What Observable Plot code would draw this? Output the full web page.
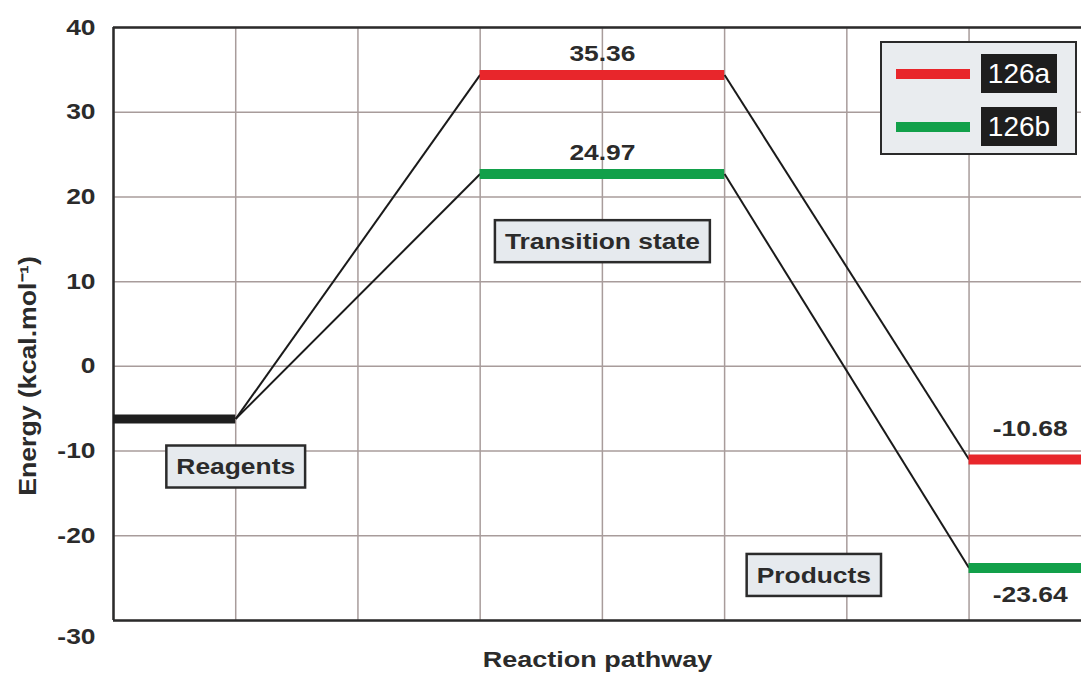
<!DOCTYPE html>
<html><head><meta charset="utf-8">
<script src="https://cdn.jsdelivr.net/npm/d3@7"></script>
<script src="https://cdn.jsdelivr.net/npm/@observablehq/plot@0.6"></script>
<style>
body{margin:0;background:#fff;font-family:"Liberation Sans",Arial,sans-serif;}
#wrap{position:relative;width:1081px;height:680px;overflow:hidden;}
.legend{position:absolute;left:880px;top:41px;width:197px;height:114px;border:2px solid #2a2a2a;background:#e9ecef;box-sizing:border-box;}
.legend .sw{position:absolute;left:14px;width:74px;height:10px;}
.legend .lb{position:absolute;left:99px;width:76px;height:39px;background:#1e1e1e;color:#fff;font-size:28px;line-height:39px;text-align:center;}
</style></head><body><div id="wrap"></div>
<script>
// ---- data ----
const stages = ["Reagents", "Transition state", "Products"];
const series = ["126a", "126b"];
const seriesColors = ["#e8262b", "#12a04a"];
const reagentEnergy = -6.2;                 // drawn level
const tsEnergy = [34.4, 22.7];              // drawn levels
const productEnergy = [-11.0, -23.8];       // drawn levels
const tsLabels = ["35.36", "24.97"];
const productLabels = ["-10.68", "-23.64"];
const yTicks = [40, 30, 20, 10, 0, -10, -20, -30];
const xGrid = [0, 1, 2, 3, 4, 5, 6, 7];
// stage spans along the pathway axis
const stageSpans = [[0, 1], [3, 5], [7, 7.92]];
const stageBoxPos = [[1, -11.9], [4, 14.7], [5.73, -24.7]];

// ---- build tables ----
const reagentLevel = [{x1: stageSpans[0][0], x2: stageSpans[0][1], y: reagentEnergy}];
const levels = [];
const connectors = [];
series.forEach((s, i) => {
  levels.push({s, x1: stageSpans[1][0], x2: stageSpans[1][1], y: tsEnergy[i], c: seriesColors[i]});
  levels.push({s, x1: stageSpans[2][0], x2: stageSpans[2][1], y: productEnergy[i], c: seriesColors[i]});
  connectors.push({x1: stageSpans[0][1], y1: reagentEnergy, x2: stageSpans[1][0], y2: tsEnergy[i]});
  connectors.push({x1: stageSpans[1][1], y1: tsEnergy[i], x2: stageSpans[2][0], y2: productEnergy[i]});
});
const tsLab = series.map((s, i) => ({x: (stageSpans[1][0] + stageSpans[1][1]) / 2, y: tsEnergy[i], t: tsLabels[i]}));
const prodLab = series.map((s, i) => ({x: 7.5, y: productEnergy[i], t: productLabels[i], dir: i === 0 ? -1 : 1}));
const stageBoxes = stages.map((s, i) => ({t: s, x: stageBoxPos[i][0], y: stageBoxPos[i][1]}));

const ink = "#2b2b2b";
const yMin = d3.min(yTicks), yMax = d3.max(yTicks);
const chart = Plot.plot({
  width: 1081, height: 680,
  marginLeft: 113, marginRight: 0, marginTop: 27, marginBottom: 60,
  x: {domain: [0, 7.92], axis: null},
  y: {domain: [yMin, yMax], axis: null},
  color: {type: "identity"},
  style: {fontFamily: "'Liberation Sans', Arial, sans-serif", background: "#fff", color: ink},
  marks: [
    Plot.gridX(xGrid, {stroke: "#a89c9b", strokeOpacity: 1, strokeWidth: 1.5}),
    Plot.gridY(yTicks, {stroke: "#a89c9b", strokeOpacity: 1, strokeWidth: 1.5}),
    Plot.ruleX([xGrid[0]], {stroke: ink, strokeWidth: 2.5}),
    Plot.ruleY([yMin, yMax], {stroke: ink, strokeWidth: 2.5}),
    Plot.axisY(yTicks.filter(d => d !== yMin), {tickSize: 0, tickPadding: 18, fontSize: 22, fontWeight: "bold", fill: ink, label: null, tickFormat: d => String(d)}),
    Plot.axisY([yMin], {tickSize: 0, tickPadding: 18, dy: 16, fontSize: 22, fontWeight: "bold", fill: ink, label: null, tickFormat: d => String(d)}),
    Plot.text(["Energy (kcal.mol\u207B\u00B9)"], {frameAnchor: "left", textAnchor: "middle", rotate: -90, dx: -85, dy: 52, fontSize: 23, fontWeight: "bold", fill: ink}),
    Plot.text(["Reaction pathway"], {frameAnchor: "bottom", dy: 46, fontSize: 22.5, fontWeight: "bold", fill: ink}),
    Plot.link(connectors, {x1: "x1", y1: "y1", x2: "x2", y2: "y2", stroke: "#1a1a1a", strokeWidth: 2}),
    Plot.ruleY(reagentLevel, {y: "y", x1: "x1", x2: "x2", stroke: "#1e1e1e", strokeWidth: 9}),
    Plot.ruleY(levels, {y: "y", x1: "x1", x2: "x2", stroke: "c", strokeWidth: 10}),
    Plot.text(tsLab, {x: "x", y: "y", text: "t", dy: -21, fontSize: 22, fontWeight: "bold", fill: ink}),
    Plot.text(prodLab.filter(d => d.dir < 0), {x: "x", y: "y", text: "t", dy: -31, fontSize: 22, fontWeight: "bold", fill: ink}),
    Plot.text(prodLab.filter(d => d.dir > 0), {x: "x", y: "y", text: "t", dy: 27, fontSize: 22, fontWeight: "bold", fill: ink}),
    Plot.text(stageBoxes, {x: "x", y: "y", text: "t", fontSize: 22, fontWeight: "bold", fill: ink})
  ]
});
const wrap = document.getElementById("wrap");
wrap.appendChild(chart);

// The reference lettering is horizontally wide: stretch glyphs about their anchor.
const ns = "http://www.w3.org/2000/svg";
const sx = 1.2;
chart.querySelectorAll("text").forEach(t => {
  const base = t.getAttribute("transform") || "";
  const xa = parseFloat(t.getAttribute("x")) || 0;
  t.setAttribute("x", 0);
  const pre = (base + ` translate(${xa},0)`).trim();
  t.dataset.pre = pre;
  const isTitle = t.textContent.startsWith("Energy");
  t.setAttribute("transform", pre + ` scale(${isTitle ? 1.16 : sx},1)`);
});

// boxes behind stage labels
chart.querySelectorAll("text").forEach(t => {
  if (!stages.includes(t.textContent)) return;
  const bb = t.getBBox();
  const r = document.createElementNS(ns, "rect");
  const px = 10, h = 42;
  r.setAttribute("x", bb.x * sx - px);
  r.setAttribute("y", bb.y + bb.height / 2 - h / 2);
  r.setAttribute("width", bb.width * sx + 2 * px);
  r.setAttribute("height", h);
  r.setAttribute("fill", "#e6eaee");
  r.setAttribute("stroke", ink);
  r.setAttribute("stroke-width", 2.5);
  r.setAttribute("transform", t.dataset.pre);
  t.parentNode.insertBefore(r, t);
});

// legend
const lg = document.createElement("div");
lg.className = "legend";
const rowTops = [24, 77];
series.forEach((s, i) => {
  const sw = document.createElement("div");
  sw.className = "sw"; sw.style.top = (rowTops[i] + 2) + "px"; sw.style.background = seriesColors[i];
  const lb = document.createElement("div");
  lb.className = "lb"; lb.style.top = (rowTops[i] - 13) + "px"; lb.textContent = s;
  lg.appendChild(sw); lg.appendChild(lb);
});
wrap.appendChild(lg);
</script>
</body></html>
